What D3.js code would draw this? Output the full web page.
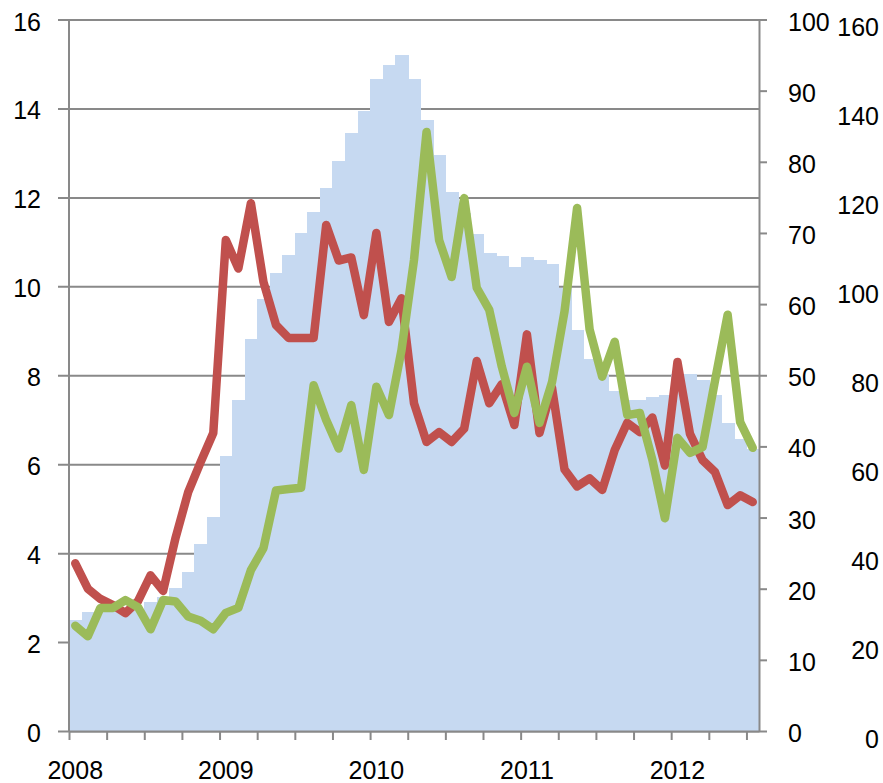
<!DOCTYPE html>
<html>
<head>
<meta charset="utf-8">
<script src="https://cdn.jsdelivr.net/npm/d3@7"></script>
<style>
  body { margin: 0; background: #fff; }
  text { font-family: "Liberation Sans", Arial, sans-serif; font-size: 25px; fill: #000; }
</style>
</head>
<body>
<script>
// monthly categories, Jan 2008 .. Jul 2012
let months = [
  '2008-01','2008-02','2008-03','2008-04','2008-05','2008-06','2008-07','2008-08','2008-09','2008-10','2008-11','2008-12',
  '2009-01','2009-02','2009-03','2009-04','2009-05','2009-06','2009-07','2009-08','2009-09','2009-10','2009-11','2009-12',
  '2010-01','2010-02','2010-03','2010-04','2010-05','2010-06','2010-07','2010-08','2010-09','2010-10','2010-11','2010-12',
  '2011-01','2011-02','2011-03','2011-04','2011-05','2011-06','2011-07','2011-08','2011-09','2011-10','2011-11','2011-12',
  '2012-01','2012-02','2012-03','2012-04','2012-05','2012-06','2012-07'
];

// blue columns (left axis)
let barValues = [
  2.5, 2.68, 2.68, 2.7, 2.72, 2.75, 2.89, 3.02, 3.21, 3.58, 4.21, 4.81,
  6.18, 7.44, 8.81, 9.71, 10.29, 10.7, 11.2, 11.67, 12.2, 12.82, 13.44, 13.94,
  14.66, 14.98, 15.2, 14.66, 13.74, 12.95, 12.13, 11.65, 11.18, 10.76, 10.68, 10.43,
  10.66, 10.59, 10.5, 9.96, 9.02, 8.36, 8.0, 7.64, 7.44, 7.44, 7.52, 7.56,
  8.03, 8.03, 7.89, 7.56, 6.93, 6.57, 6.35
];

// red line (left axis)
let redValues = [
  3.77, 3.2, 2.97, 2.83, 2.65, 2.92, 3.5, 3.15, 4.35, 5.37, 6.05, 6.7,
  11.04, 10.4, 11.87, 10.1, 9.13, 8.84, 8.84, 8.84, 11.38, 10.58, 10.65, 9.35,
  11.2, 9.2, 9.73, 7.37, 6.5, 6.72, 6.5, 6.8, 8.32, 7.37, 7.8, 6.88,
  8.92, 6.7, 7.72, 5.88, 5.5, 5.68, 5.42, 6.32, 6.93, 6.72, 7.05, 5.97,
  8.3, 6.68, 6.09, 5.82, 5.08, 5.3, 5.15
];

// green line (first right axis, 0-100)
let greenValues = [
  14.8, 13.3, 17.3, 17.3, 18.4, 17.4, 14.3, 18.4, 18.2, 16.1, 15.5, 14.3,
  16.6, 17.3, 22.6, 25.7, 33.8, 34.0, 34.2, 48.6, 43.7, 39.7, 45.8, 36.7,
  48.4, 44.4, 53.5, 66.2, 84.2, 69.0, 63.8, 74.9, 62.3, 59.2, 51.2, 44.7,
  51.2, 43.3, 49.0, 59.0, 73.5, 56.4, 49.8, 54.7, 44.4, 44.7, 38.1, 29.9,
  41.2, 39.1, 39.9, 49.3, 58.5, 43.4, 39.8
];

let years = ['2008', '2009', '2010', '2011', '2012'];
let leftTicks = [0, 2, 4, 6, 8, 10, 12, 14, 16];
let rightTicks = [0, 10, 20, 30, 40, 50, 60, 70, 80, 90, 100];
let right2Ticks = [0, 20, 40, 60, 80, 100, 120, 140, 160];

let width = 883;
let height = 783;
let plotLeft = 69, plotRight = 759, plotTop = 19.5, plotBottom = 731;
let axisColor = '#898989';

let svg = d3.select('body').append('svg')
    .attr('width', width)
    .attr('height', height);

let x = d3.scaleBand().domain(months).range([plotLeft, plotRight]).padding(0);
let xTick = d3.scaleLinear().domain([0, months.length]).range([plotLeft, plotRight]);
let yLeft = d3.scaleLinear().domain([0, 16]).range([plotBottom, plotTop]);
let yRight = d3.scaleLinear().domain([0, 100]).range([plotBottom, plotTop]);
// the outer axis sits a few pixels lower in the original
let yRight2 = d3.scaleLinear().domain([0, 160]).range([plotBottom + 5.5, plotTop + 5.5]);

// gridlines (behind columns)
let grid = svg.append('g')
    .attr('transform', `translate(${plotLeft - 11},0)`)
    .call(d3.axisLeft(yLeft).tickValues(leftTicks).tickSize(-(plotRight - plotLeft + 11)).tickFormat(''));
grid.select('.domain').remove();
grid.selectAll('line').attr('stroke', axisColor).attr('stroke-width', 2);

// columns
svg.append('g')
   .attr('shape-rendering', 'crispEdges')
   .selectAll('rect')
   .data(barValues)
   .enter()
   .append('rect')
   .attr('x', (d, i) => x(months[i]))
   .attr('width', x.bandwidth() + 1)
   .attr('y', (d) => yLeft(d))
   .attr('height', (d) => yLeft(0) - yLeft(d))
   .attr('fill', '#c6d9f1');

// left axis line + labels
svg.append('line')
   .attr('x1', plotLeft).attr('x2', plotLeft)
   .attr('y1', yLeft(16)).attr('y2', yLeft(0))
   .attr('stroke', axisColor).attr('stroke-width', 2);

let leftLabels = svg.append('g')
    .attr('transform', 'translate(41,0)')
    .call(d3.axisLeft(yLeft).tickValues(leftTicks).tickSize(0).tickPadding(0));
leftLabels.select('.domain').remove();
leftLabels.selectAll('text').attr('dy', '0.42em').attr('x', 0);

// bottom axis ticks
let xAxis = svg.append('g')
    .attr('transform', `translate(0,${plotBottom})`)
    .call(d3.axisBottom(xTick)
        .tickValues(d3.range(0, months.length, 3))
        .tickSize(9)
        .tickSizeOuter(0)
        .tickFormat(''));
xAxis.selectAll('line, path').attr('stroke', axisColor).attr('stroke-width', 2);

// year labels at the January category
let yearLabels = svg.append('g')
    .attr('transform', `translate(0,${plotBottom})`)
    .call(d3.axisBottom(x)
        .tickValues(years.map((y) => y + '-01'))
        .tickSize(0)
        .tickFormat((d) => d.slice(0, 4)));
yearLabels.select('.domain').remove();
yearLabels.selectAll('text').attr('y', 48).attr('dy', 0);

// right axis (0-100)
let rAxis = svg.append('g')
    .attr('transform', `translate(${plotRight},0)`)
    .call(d3.axisRight(yRight).tickValues(rightTicks).tickSize(8).tickSizeOuter(0).tickPadding(21));
rAxis.selectAll('line, path').attr('stroke', axisColor).attr('stroke-width', 2);
rAxis.selectAll('text').attr('dy', '0.42em');

// outer right axis (0-160), labels only
let r2Axis = svg.append('g')
    .attr('transform', 'translate(879,0)')
    .call(d3.axisRight(yRight2).tickValues(right2Ticks).tickSize(0).tickPadding(0));
r2Axis.select('.domain').remove();
r2Axis.selectAll('text').attr('text-anchor', 'end').attr('x', 0).attr('dy', '0.42em');

let cx = (i) => x(months[i]) + x.bandwidth() / 2;

let redLine = d3.line()
    .x((d, i) => cx(i))
    .y((d) => yLeft(d));

let greenLine = d3.line()
    .x((d, i) => cx(i))
    .y((d) => yRight(d));

svg.append('path')
   .datum(redValues)
   .attr('d', redLine)
   .attr('fill', 'none')
   .attr('stroke', '#c0504d')
   .attr('stroke-width', 8.5)
   .attr('stroke-linejoin', 'round')
   .attr('stroke-linecap', 'round');

svg.append('path')
   .datum(greenValues)
   .attr('d', greenLine)
   .attr('fill', 'none')
   .attr('stroke', '#9bbb59')
   .attr('stroke-width', 8.5)
   .attr('stroke-linejoin', 'round')
   .attr('stroke-linecap', 'round');
</script>
</body>
</html>
